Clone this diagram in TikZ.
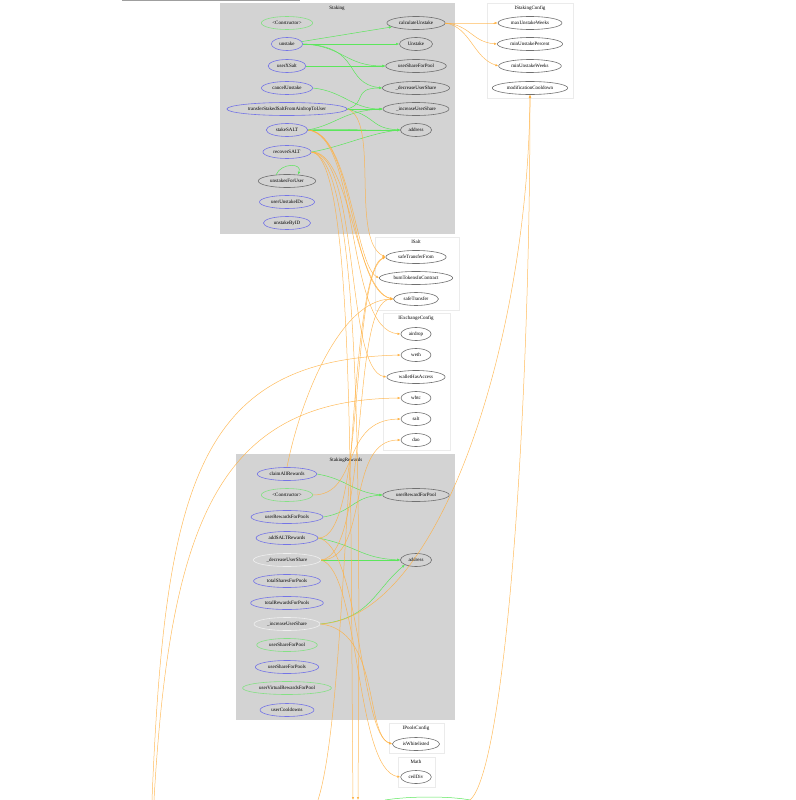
\documentclass[tikz,border=0pt]{standalone}
\usepackage{fontspec}
\setmainfont{Liberation Serif}
\usepackage{tikz}
\usetikzlibrary{shapes.geometric,arrows.meta}

\definecolor{clgray}{HTML}{D3D3D3}
\definecolor{fnblue}{HTML}{7474E6}
\definecolor{fngreen}{HTML}{85E085}
\definecolor{extgray}{HTML}{707070}
\definecolor{privwhite}{HTML}{F0F0F0}
\definecolor{boxgray}{HTML}{EBEBEB}
\definecolor{edgegreen}{HTML}{5CE65C}
\definecolor{edgeorange}{HTML}{FFB040}

\begin{document}
\begin{tikzpicture}[x=1pt,y=-1pt,font=\fontsize{5}{6}\selectfont,
	fn/.style={ellipse,draw,inner xsep=3.5pt,inner ysep=0.5pt,minimum height=13,minimum width=30,line width=0.6pt},
	pub/.style={fn,draw=fnblue},
	ctor/.style={fn,draw=fngreen},
	ext/.style={fn,draw=extgray},
	priv/.style={fn,draw=privwhite},
	iface/.style={draw=boxgray,line width=0.6pt},
	internal/.style={draw=edgegreen,line width=0.5pt,-{Latex[length=3pt,width=2.5pt]}},
	external/.style={draw=edgeorange,line width=0.5pt,draw opacity=0.85,-{Latex[length=3pt,width=2.5pt]}}]
	\useasboundingbox (0,0) rectangle (795,800);
	\fill[gray!75] (122,0) rectangle (300,1.5);

	% Staking
	\fill[clgray] (220,3) rectangle (455,234);
	\node (stLabel) at (337,8) {Staking};
	\node[ctor] (stCtor) at (287,23) {<Constructor>};
	\node[pub] (stUnstake) at (287,44) {unstake};
	\node[pub] (stXSalt) at (287,66) {userXSalt};
	\node[pub] (stCancel) at (287,88) {cancelUnstake};
	\node[pub] (stTransfer) at (287,109) {transferStakedSaltFromAirdropToUser};
	\node[pub] (stStake) at (287,130) {stakeSALT};
	\node[pub] (stRecover) at (287,152) {recoverSALT};
	\node[ext] (stForUser) at (287,181) {unstakesForUser};
	\node[pub] (stIDs) at (287,202) {userUnstakeIDs};
	\node[pub] (stByID) at (287,223) {unstakeByID};
	\node[ext] (stCalc) at (416,23) {calculateUnstake};
	\node[ext] (stUnstakeEv) at (416,44) {Unstake};
	\node[ext] (stShare) at (416,66) {userShareForPool};
	\node[ext] (stDecr) at (416,88) {\_decreaseUserShare};
	\node[ext] (stIncr) at (416,109) {\_increaseUserShare};
	\node[ext] (stAddr) at (416,130) {address};

	% IStakingConfig
	\draw[iface] (487,3) rectangle (573,98);
	\node (scLabel) at (530,8) {IStakingConfig};
	\node[ext] (scMaxWeeks) at (530,23) {maxUnstakeWeeks};
	\node[ext] (scMinPct) at (530,44) {minUnstakePercent};
	\node[ext] (scMinWeeks) at (530,66) {minUnstakeWeeks};
	\node[ext] (scCooldown) at (530,88) {modificationCooldown};

	% ISalt
	\draw[iface] (375,237) rectangle (459,310);
	\node (saLabel) at (416,242) {ISalt};
	\node[ext] (saFrom) at (416,257) {safeTransferFrom};
	\node[ext] (saBurn) at (416,278) {burnTokensInContract};
	\node[ext] (saTransfer) at (416,299) {safeTransfer};

	% IExchangeConfig
	\draw[iface] (383,313) rectangle (450,450);
	\node (exLabel) at (416,318) {IExchangeConfig};
	\node[ext] (exAirdrop) at (416,334) {airdrop};
	\node[ext] (exWeth) at (416,355) {weth};
	\node[ext] (exAccess) at (416,377) {walletHasAccess};
	\node[ext] (exWbtc) at (416,398) {wbtc};
	\node[ext] (exSalt) at (416,419) {salt};
	\node[ext] (exDao) at (416,440) {dao};

	% StakingRewards
	\fill[clgray] (236,454) rectangle (455,720);
	\node (srLabel) at (346,460) {StakingRewards};
	\node[pub] (srClaim) at (287,474) {claimAllRewards};
	\node[ctor] (srCtor) at (287,495) {<Constructor>};
	\node[pub] (srRewards) at (287,517) {userRewardsForPools};
	\node[pub] (srAddSalt) at (287,538) {addSALTRewards};
	\node[priv] (srDecr) at (287,560) {\_decreaseUserShare};
	\node[pub] (srTotShares) at (287,581) {totalSharesForPools};
	\node[pub] (srTotRewards) at (287,603) {totalRewardsForPools};
	\node[priv] (srIncr) at (287,624) {\_increaseUserShare};
	\node[ctor] (srShare) at (287,645) {userShareForPool};
	\node[pub] (srShares) at (287,667) {userShareForPools};
	\node[ctor] (srVirtual) at (287,688) {userVirtualRewardsForPool};
	\node[pub] (srCooldowns) at (287,710) {userCooldowns};
	\node[ext] (srReward) at (416,495) {userRewardForPool};
	\node[ext] (srAddr) at (416,560) {address};

	% IPoolsConfig, Math
	\draw[iface] (389,723) rectangle (444,753);
	\node (ipLabel) at (416,728) {IPoolsConfig};
	\node[ext] (ipWhite) at (416,744) {isWhitelisted};
	\draw[iface] (398,757) rectangle (435,787);
	\node (mLabel) at (416,762) {Math};
	\node[ext] (mCeil) at (416,777) {ceilDiv};

	% loose ends below
	\coordinate (offA) at (152,800);
	\coordinate (offB) at (154,800);
	\coordinate (offC) at (318,800);
	\coordinate (offD) at (353,800);
	\coordinate (offE) at (358,800);
	\coordinate (offF) at (470,800);
	\coordinate (offG) at (385,800);

	% internal calls
	\draw[internal] (stUnstake) -- (stCalc);
	\draw[internal] (stUnstake) -- (stUnstakeEv);
	\draw[internal] (stUnstake.east) .. controls +(40,2) and +(-40,0) .. (stShare.west);
	\draw[internal] (stUnstake.east) .. controls +(60,2) and +(-40,-5) .. (stDecr.west);
	\draw[internal] (stXSalt) -- (stShare);
	\draw[internal] (stCancel.east) .. controls +(30,3) and +(-30,0) .. (stIncr.west);
	\draw[internal] (stTransfer.east) .. controls +(20,-6) and +(-30,0) .. (stDecr.west);
	\draw[internal] (stTransfer) -- (stIncr);
	\draw[internal] (stTransfer.east) .. controls +(30,8) and +(-30,-2) .. (stAddr.west);
	\draw[internal] (stStake.east) .. controls +(30,-6) and +(-40,2) .. (stIncr.west);
	\draw[internal] (stStake.east) -- (stAddr.west);
	\draw[internal] (stStake.east) .. controls +(40,-2) and +(-40,1) .. (stAddr.west);
	\draw[internal] (stRecover.east) .. controls +(30,-5) and +(-30,3) .. (stAddr.west);
	\draw[internal] (stForUser.150) .. controls +(5,-12) and +(5,-12) .. (stForUser.30);
	\draw[internal] (srClaim.east) .. controls +(30,5) and +(-30,-3) .. (srReward.west);
	\draw[internal] (srRewards.east) .. controls +(30,-5) and +(-30,2) .. (srReward.west);
	\draw[internal] (srAddSalt.east) .. controls +(40,8) and +(-40,-2) .. (srAddr.west);
	\draw[internal] (srDecr) -- (srAddr);
	\draw[internal] (srIncr.east) .. controls +(50,-5) and +(-30,25) .. (srAddr.south west);
	\draw[draw=edgegreen,line width=0.5pt] (offG) .. controls (410,796) and (450,796) .. (offF);

	% external calls
	\draw[external] (stCalc.east) .. controls +(20,0) and +(-20,0) .. (scMaxWeeks.west);
	\draw[external] (stCalc.east) .. controls +(25,2) and +(-25,-2) .. (scMinPct.west);
	\draw[external] (stCalc.east) .. controls +(25,4) and +(-25,-8) .. (scMinWeeks.west);
	\draw[external] (stTransfer.east) .. controls (380,120) and (350,240) .. (saFrom.west);
	\draw[external] (stStake.east) .. controls (350,132) and (355,265) .. (saBurn.west);
	\draw[external] (stStake.east) .. controls (355,134) and (350,290) .. (saTransfer.west);
	\draw[external] (stStake.east) .. controls (360,136) and (345,330) .. (exAirdrop.west);
	\draw[external] (stRecover.east) .. controls (350,150) and (355,290) .. (saTransfer.west);
	\draw[external] (stRecover.east) .. controls (360,154) and (345,370) .. (exAccess.west);
	\draw[external] (stRecover.east) .. controls (355,156) and (350,500) .. (offD);
	\draw[external] (stRecover.east) .. controls (362,158) and (360,500) .. (offE);
	\draw[external] (srClaim.north) .. controls (300,400) and (340,300) .. (saTransfer.west);
	\draw[external] (offC) .. controls (350,700) and (345,270) .. (saFrom.west);
	\draw[external] (offA) .. controls (165,480) and (200,360) .. (exWeth.west);
	\draw[external] (offB) .. controls (170,520) and (220,400) .. (exWbtc.west);
	\draw[external] (srCtor.east) .. controls (360,495) and (340,420) .. (exSalt.west);
	\draw[external] (srDecr.east) .. controls (370,560) and (345,440) .. (exDao.west);
	\draw[external] (srDecr.east) .. controls (370,556) and (350,300) .. (saTransfer.west);
	\draw[external] (srDecr.east) .. controls (360,570) and (355,770) .. (mCeil.west);
	\draw[external] (srAddSalt.east) .. controls (365,540) and (350,275) .. (saFrom.west);
	\draw[external] (srAddSalt.east) .. controls (360,545) and (360,735) .. (ipWhite.west);
	\draw[external] (srIncr.east) .. controls (380,630) and (365,735) .. (ipWhite.west);
	\draw[external] (srIncr.east) .. controls (440,618) and (528,340) .. (scCooldown.south);
	\draw[external] (offF) .. controls (505,770) and (530,420) .. (scCooldown.south);
\end{tikzpicture}
\end{document}
